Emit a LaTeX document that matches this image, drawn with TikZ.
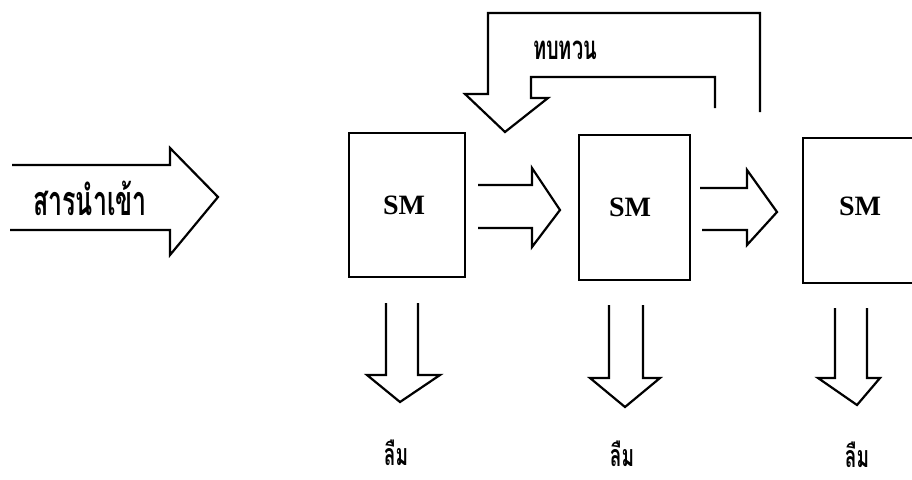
\documentclass[tikz,border=0pt]{standalone}
\usepackage{fontspec}
\setmainfont{Liberation Serif}
\newfontfamily\thaifont[Script=Thai]{Loma}
% tall, condensed look for the Thai captions
\newcommand{\tallthai}[2][1.65]{\scalebox{1}[#1]{\thaifont\bfseries #2}}
\tikzset{
  line/.style={line width=2.2pt, line join=miter, line cap=butt},
  smbox/.style={line, draw, inner sep=0pt},
  smlabel/.style={font=\fontsize{28}{28}\selectfont\bfseries, inner sep=0pt},
  thailabel/.style={font=\fontsize{19}{19}\selectfont, inner sep=0pt},
  blockarrow/.style={line}
}
\begin{document}
\begin{tikzpicture}[x=1pt,y=-1pt]
\useasboundingbox (0,0) rectangle (912,479);

% storage boxes
\node[smbox, minimum width=116pt, minimum height=144pt] (b1) at (407,205) {};
\node[smbox, minimum width=111pt, minimum height=145pt] (b2) at (634.5,207.5) {};
\coordinate (b3tl) at (803,138);
\coordinate (b3bl) at (803,283);
\draw[line] (912,138) -- (b3tl) -- (b3bl) -- (912,283);

\node[smlabel] (sm1) at (404,205) {SM};
\node[smlabel] (sm2) at (630,207) {SM};
\node[smlabel] (sm3) at (860,206) {SM};

% input arrow
\draw[blockarrow] (12,165) -- (170,165) -- (170,148) -- (218,197) -- (170,255) -- (170,230) -- (10,230);
\node[thailabel, font=\fontsize{25}{25}\selectfont] (input) at (90,198) {\tallthai{สารนำเข้า}};

% transfer arrows between boxes
\draw[blockarrow] (478,185) -- (532,185) -- (532,168) -- (560,210) -- (532,247) -- (532,228) -- (478,228);
\draw[blockarrow] (700,188) -- (747,188) -- (747,170) -- (777,212) -- (747,245) -- (747,230) -- (702,230);

% rehearsal loop
\draw[blockarrow] (760,112) -- (760,13) -- (488,13) -- (488,94) -- (465,94) -- (505,132)
  -- (548,98) -- (531,98) -- (531,77) -- (715,77) -- (715,108);
\node[thailabel, font=\fontsize{20}{20}\selectfont] (rehearse) at (565,50) {\tallthai{ทบทวน}};

% forgetting arrows
\draw[blockarrow] (386,303) -- (386,375) -- (367,375) -- (400,402) -- (440,375) -- (418,375) -- (418,303);
\draw[blockarrow] (609,305) -- (609,378) -- (590,378) -- (625,407) -- (660,378) -- (643,378) -- (643,305);
\draw[blockarrow] (835,308) -- (835,378) -- (818,378) -- (857,405) -- (880,378) -- (867,378) -- (867,308);

\node[thailabel] (f1) at (396,453) {\tallthai[1.6]{ลืม}};
\node[thailabel] (f2) at (622,454) {\tallthai[1.6]{ลืม}};
\node[thailabel] (f3) at (857,455) {\tallthai[1.6]{ลืม}};
\end{tikzpicture}
\end{document}
